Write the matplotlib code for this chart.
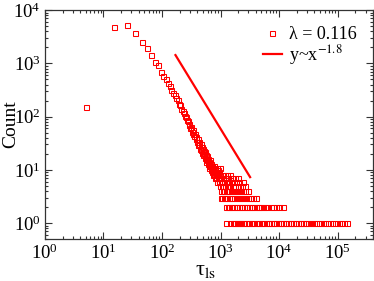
import matplotlib
matplotlib.use("Agg")
import matplotlib.pyplot as plt
from matplotlib.ticker import LogLocator, NullFormatter

plt.rcParams["font.family"] = ["Liberation Serif", "DejaVu Serif"]
plt.rcParams["mathtext.fontset"] = "stix"

# Data: histogram of tau_ls (bin centres, counts)
branch_x = [5, 15, 25, 35, 45, 55, 65, 75, 85, 95,
            105, 115, 125, 135, 145, 155, 165, 175, 185, 195,
            205, 215, 225, 235, 245, 255, 265, 275, 285, 295,
            305, 315, 325, 335, 345, 355, 365, 375, 385, 395,
            405, 415, 425, 435, 445, 455, 465, 475, 485, 495,
            505, 515, 525, 535, 545, 555, 565, 575, 585, 595,
            605, 615, 625, 635, 645, 655, 665, 675, 685, 695,
            705, 715, 725, 735, 745, 755, 765, 775, 785, 795,
            805, 815, 825, 835, 845, 855, 865, 875, 885, 895,
            905, 915, 925, 935, 945, 955, 965, 975, 985, 995]
branch_y = [150, 4750, 5190, 3670, 2520, 1945, 1440, 1075, 935, 690,
            590, 509, 436, 377, 322, 281, 251, 219, 203, 171,
            163, 141, 128, 116, 101, 97, 85, 83, 71, 72,
            60, 63, 52, 55, 47, 43, 48, 38, 41, 33,
            38, 29, 34, 31, 25, 30, 24, 27, 21, 25,
            19, 23, 20, 17, 22, 16, 19, 14, 18, 15,
            13, 16, 12, 14, 11, 15, 12, 10, 13, 11,
            9, 12, 10, 11, 8, 10, 9, 12, 8, 9,
            7, 10, 8, 9, 7, 8, 11, 6, 9, 7,
            8, 10, 6, 7, 9, 6, 8, 5, 7, 11]

tail_8 = [1050, 1120, 1200, 1290, 1440]
tail_7 = [1030, 1100, 1180, 1260, 1350, 1470, 1600, 1780, 1960]
tail_6 = [1010, 1080, 1150, 1240, 1330, 1420, 1540, 1680, 1850, 2050, 2400]
tail_5 = [1040, 1110, 1190, 1270, 1370, 1480, 1620, 1770, 1950, 2150,
          2350, 2600]
tail_4 = [1020, 1090, 1160, 1230, 1310, 1400, 1500, 1610, 1740, 1880,
          2030, 2200, 2400, 2650, 3000]
tail_3 = [1000, 1060, 1130, 1210, 1300, 1390, 1490, 1600, 1720, 1850,
          2000, 2150, 2320, 2500, 2700, 2950, 3250, 3600, 4100]
tail_2 = [1250, 1330, 1410, 1500, 1600, 1700, 1810, 1930, 2060, 2200,
          2350, 2510, 2680, 2860, 3060, 3270, 3500, 3750, 4020, 4300,
          4600, 4950, 5300, 5750, 6300, 7200, 7800, 8900, 10000, 11700]
tail_1 = [1220, 1480, 1650, 1720, 1800, 1880, 1960, 2050, 2150, 2250,
          2400, 2550, 2700, 2900, 3100, 3300, 3500, 3750, 4000, 4300,
          4600, 4900, 5200, 5600, 6000, 6400, 6800, 7300, 7800, 8300,
          8900, 9500, 10200, 10900, 11600, 12400, 13200, 14100, 15100,
          16100, 17200, 18400, 19700, 21000, 22500, 24000, 25700, 27500,
          29400, 31500, 34000, 37000, 40000, 43500, 47500, 52000, 57000,
          62000, 68000, 74000, 81000, 89000, 97000, 106000, 116000,
          127000, 145000]

tail_levels = [8, 7, 6, 5, 4, 3, 2, 1]
tail_xs = [tail_8, tail_7, tail_6, tail_5, tail_4, tail_3, tail_2, tail_1]

# reference power law y ~ x^-1.8 (end points)
fit_x = [170, 3200]
fit_y = [1430, 7.3]

all_x = list(branch_x)
all_y = list(branch_y)
for lev, xs in zip(tail_levels, tail_xs):
    all_x += xs
    all_y += [lev] * len(xs)

fig = plt.figure(figsize=(3.74, 2.81), dpi=100)
ax = fig.add_axes([0.120, 0.149, 0.877, 0.815])

ax.plot(all_x, all_y, linestyle="none", marker="s", markersize=3.6,
        markerfacecolor="none", markeredgecolor="red",
        markeredgewidth=0.75, label="λ = 0.116")
ax.plot(fit_x, fit_y, color="red", linewidth=1.6,
        label=r"y~x$^{-1.8}$")

ax.set_xscale("log")
ax.set_yscale("log")
ax.set_xlim(1, 4e5)
ax.set_ylim(0.5, 1e4)

ax.xaxis.set_major_locator(LogLocator(base=10, numticks=10))
ax.xaxis.set_minor_locator(LogLocator(base=10, subs=range(2, 10), numticks=20))
ax.yaxis.set_major_locator(LogLocator(base=10, numticks=10))
ax.yaxis.set_minor_locator(LogLocator(base=10, subs=range(2, 10), numticks=20))
ax.xaxis.set_minor_formatter(NullFormatter())
ax.yaxis.set_minor_formatter(NullFormatter())

ax.tick_params(which="both", direction="in", top=True, right=True,
               labelsize=13.5, width=0.8, color="#333333")
ax.tick_params(which="major", length=5, pad=3)
ax.tick_params(which="minor", length=2.5)
for s in ax.spines.values():
    s.set_linewidth(0.9)
    s.set_color("#333333")

ax.set_xlabel("τ$_{\\mathrm{ls}}$", fontsize=16)
ax.xaxis.set_label_coords(0.49, -0.095)
ax.set_ylabel("Count", fontsize=14)
ax.yaxis.set_label_coords(-0.078, 0.5)

ax.legend(loc="upper right", frameon=False, fontsize=13,
          handlelength=1.05, handletextpad=0.4, labelspacing=0.0,
          borderaxespad=0.5, numpoints=1)

fig.savefig("out.png", dpi=100)
